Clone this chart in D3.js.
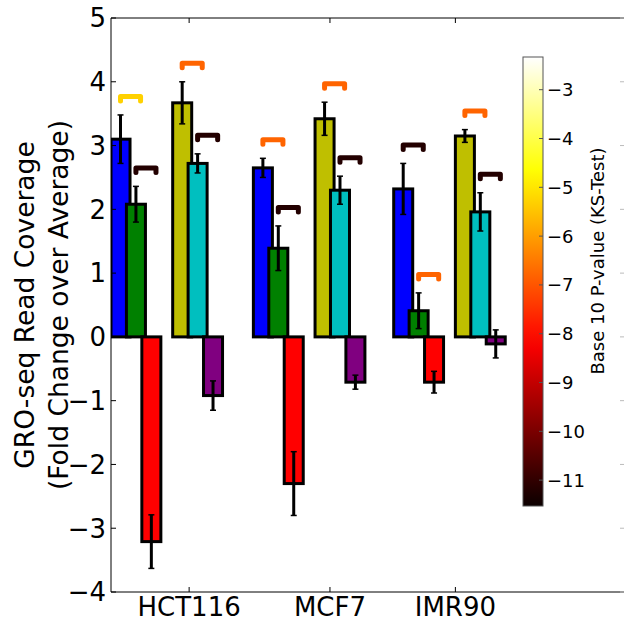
<!DOCTYPE html>
<html>
<head>
<meta charset="utf-8" />
<title>GRO-seq Read Coverage</title>
<script src="https://d3js.org/d3.v7.min.js"></script>
<style>
    body { margin: 0; background: white; }
    text { font-family: "DejaVu Sans", sans-serif; fill: black; }
</style>
</head>
<body>
<svg id="chart" width="624" height="622"></svg>
<script>

    // cell lines on the x axis
    let cellLines = ["HCT116", "MCF7", "IMR90"];
    let tickPos = [0.76, 2.13, 3.35];
    let groupStart = [0, 1.385, 2.75];

    // six bars per cell line (mean, error)
    let seriesColors = ["#0000ff", "#008000", "#ff0000", "#bfbf00", "#00bfbf", "#800080"];
    let seriesOffset = [0, 0.15, 0.3, 0.6, 0.75, 0.9];
    let blueMean = [3.10, 2.65, 2.32], blueErr = [0.38, 0.15, 0.40];
    let greenMean = [2.08, 1.39, 0.41], greenErr = [0.28, 0.35, 0.28];
    let redMean = [-3.21, -2.30, -0.71], redErr = [0.42, 0.50, 0.17];
    let yellowMean = [3.67, 3.42, 3.15], yellowErr = [0.33, 0.26, 0.10];
    let cyanMean = [2.72, 2.30, 1.96], cyanErr = [0.15, 0.22, 0.30];
    let purpleMean = [-0.92, -0.71, -0.11], purpleErr = [0.23, 0.11, 0.22];

    // log10 p-values for the brackets between neighbouring bars
    let pBlueGreen = [-5.3, -6.8, -11.2];
    let pGreenRed = [-11.2, -11.2, -6.8];
    let pYellowCyan = [-6.8, -6.8, -6.8];
    let pCyanPurple = [-11.2, -11.2, -11.2];

    let yTicks = [-4, -3, -2, -1, 0, 1, 2, 3, 4, 5];
    let cbTicks = [-11, -10, -9, -8, -7, -6, -5, -4, -3];
    let cbDomain = [-11.53, -2.33];

    let means = [blueMean, greenMean, redMean, yellowMean, cyanMean, purpleMean];
    let errs = [blueErr, greenErr, redErr, yellowErr, cyanErr, purpleErr];
    let pairs = [[0, 1, pBlueGreen], [1, 2, pGreenRed], [3, 4, pYellowCyan], [4, 5, pCyanPurple]];

    let barW = 0.185;

    let svg = d3.select("#chart");
    let pLeft = 111, pRight = 625, pTop = 18, pBottom = 592;

    let x = d3.scaleLinear().domain([0, 5]).range([pLeft, pRight]);
    let y = d3.scaleLinear().domain([-4, 5]).range([pBottom, pTop]);

    // matplotlib "hot" colormap
    let hotR = d3.scaleLinear().domain([0, 0.365, 1]).range([0.0416, 1, 1]).clamp(true);
    let hotG = d3.scaleLinear().domain([0, 0.365, 0.746, 1]).range([0, 0, 1, 1]).clamp(true);
    let hotB = d3.scaleLinear().domain([0, 0.746, 1]).range([0, 0, 1]).clamp(true);
    let cbNorm = d3.scaleLinear().domain(cbDomain).range([0, 1]).clamp(true);
    function hot(v) {
        let t = cbNorm(v);
        return d3.rgb(hotR(t) * 255, hotG(t) * 255, hotB(t) * 255).toString();
    }

    let defs = svg.append("defs");
    defs.append("clipPath").attr("id", "plotclip")
        .append("rect").attr("x", pLeft).attr("y", pTop)
        .attr("width", pRight - pLeft).attr("height", pBottom - pTop);

    let plot = svg.append("g").attr("clip-path", "url(#plotclip)");

    // bars
    let bars = [];
    means.forEach(function (m, s) {
        m.forEach(function (v, g) {
            bars.push({ s: s, g: g, v: v, e: errs[s][g], x0: groupStart[g] + seriesOffset[s] });
        });
    });

    plot.selectAll("rect.bar")
        .data(bars)
        .enter()
        .append("rect")
        .attr("class", "bar")
        .attr("x", d => x(d.x0))
        .attr("width", d => x(d.x0 + barW) - x(d.x0))
        .attr("y", d => y(Math.max(0, d.v)))
        .attr("height", d => Math.abs(y(d.v) - y(0)))
        .attr("fill", d => seriesColors[d.s])
        .attr("stroke", "black")
        .attr("stroke-width", 3);

    // error bars
    let eb = plot.selectAll("g.err").data(bars).enter().append("g").attr("class", "err");
    eb.append("line")
        .attr("x1", d => x(d.x0 + barW / 2)).attr("x2", d => x(d.x0 + barW / 2))
        .attr("y1", d => y(d.v - d.e)).attr("y2", d => y(d.v + d.e))
        .attr("stroke", "black").attr("stroke-width", 3);
    [-1, 1].forEach(function (sign) {
        eb.append("line")
            .attr("x1", d => x(d.x0 + barW / 2) - 3).attr("x2", d => x(d.x0 + barW / 2) + 3)
            .attr("y1", d => y(d.v + sign * d.e)).attr("y2", d => y(d.v + sign * d.e))
            .attr("stroke", "black").attr("stroke-width", 1.5);
    });

    // significance brackets
    let brackets = [];
    pairs.forEach(function (p) {
        cellLines.forEach(function (c, g) {
            let a = p[0], b = p[1];
            let hi = Math.max(0, means[a][g] + errs[a][g], means[b][g] + errs[b][g]);
            let x1 = groupStart[g] + seriesOffset[a] + barW / 2;
            brackets.push({ x1: x1, x2: x1 + barW + 0.01, yv: hi + 0.29, p: p[2][g] });
        });
    });

    plot.selectAll("path.bracket")
        .data(brackets)
        .enter()
        .append("path")
        .attr("class", "bracket")
        .attr("d", function (d) {
            let yb = y(d.yv), leg = 4.5;
            return "M" + x(d.x1) + "," + (yb + leg) + "L" + x(d.x1) + "," + yb +
                "L" + x(d.x2) + "," + yb + "L" + x(d.x2) + "," + (yb + leg);
        })
        .attr("fill", "none")
        .attr("stroke", d => hot(d.p))
        .attr("stroke-width", 5)
        .attr("stroke-linecap", "round")
        .attr("stroke-linejoin", "round");

    // spines
    let axisColor = "black";
    svg.append("line").attr("x1", pLeft).attr("x2", pLeft).attr("y1", pTop).attr("y2", pBottom)
        .attr("stroke", axisColor).attr("stroke-width", 1);
    svg.append("line").attr("x1", pLeft).attr("x2", pRight).attr("y1", pTop).attr("y2", pTop)
        .attr("stroke", axisColor).attr("stroke-width", 1);
    svg.append("line").attr("x1", pLeft).attr("x2", pRight).attr("y1", pBottom).attr("y2", pBottom)
        .attr("stroke", axisColor).attr("stroke-width", 1);

    // y ticks and labels
    let fmt = v => (v < 0 ? "\u2212" + Math.abs(v) : String(v));
    svg.selectAll("line.ytick").data(yTicks).enter().append("line")
        .attr("x1", pLeft).attr("x2", pLeft + 5)
        .attr("y1", d => y(d)).attr("y2", d => y(d))
        .attr("stroke", axisColor);
    svg.selectAll("line.ytickr").data(yTicks).enter().append("line")
        .attr("x1", pRight - 5).attr("x2", pRight)
        .attr("y1", d => y(d)).attr("y2", d => y(d))
        .attr("stroke", "#bbb");
    svg.selectAll("text.ylab").data(yTicks).enter().append("text")
        .attr("x", pLeft - 5).attr("y", d => y(d))
        .attr("dy", "0.36em")
        .attr("text-anchor", "end")
        .style("font-size", "26px")
        .text(fmt);

    // x ticks and labels
    svg.selectAll("line.xtick").data(tickPos).enter().append("line")
        .attr("x1", d => x(d)).attr("x2", d => x(d))
        .attr("y1", pBottom).attr("y2", pBottom - 5)
        .attr("stroke", axisColor);
    svg.selectAll("line.xtickt").data(tickPos).enter().append("line")
        .attr("x1", d => x(d)).attr("x2", d => x(d))
        .attr("y1", pTop).attr("y2", pTop + 5)
        .attr("stroke", axisColor);
    svg.selectAll("text.xlab").data(cellLines).enter().append("text")
        .attr("x", (d, i) => x(tickPos[i])).attr("y", 616)
        .attr("text-anchor", "middle")
        .style("font-size", "26px")
        .text(d => d);

    // y axis title
    let yt = svg.append("text")
        .attr("transform", "translate(0," + ((pTop + pBottom) / 2) + ") rotate(-90)")
        .attr("text-anchor", "middle")
        .style("font-size", "26.5px");
    yt.append("tspan").attr("x", 0).attr("y", 34).text("GRO-seq Read Coverage");
    yt.append("tspan").attr("x", 0).attr("y", 68).text("(Fold Change over Average)");

    // colorbar
    let cbX = 523, cbW = 20, cbTop = 57, cbBottom = 506;
    let cbY = d3.scaleLinear().domain(cbDomain).range([cbBottom, cbTop]);
    let grad = defs.append("linearGradient").attr("id", "hotgrad")
        .attr("x1", 0).attr("y1", 1).attr("x2", 0).attr("y2", 0);
    d3.range(0, 1.0001, 0.05).forEach(function (t) {
        grad.append("stop").attr("offset", t)
            .attr("stop-color", hot(cbDomain[0] + t * (cbDomain[1] - cbDomain[0])));
    });
    svg.append("rect").attr("x", cbX).attr("y", cbTop)
        .attr("width", cbW).attr("height", cbBottom - cbTop)
        .attr("fill", "url(#hotgrad)")
        .attr("stroke", "#555").attr("stroke-width", 1);
    svg.selectAll("line.cbtick").data(cbTicks).enter().append("line")
        .attr("x1", cbX + cbW - 4).attr("x2", cbX + cbW)
        .attr("y1", d => cbY(d)).attr("y2", d => cbY(d))
        .attr("stroke", "#555");
    svg.selectAll("text.cblab").data(cbTicks).enter().append("text")
        .attr("x", cbX + cbW + 4).attr("y", d => cbY(d))
        .attr("dy", "0.36em")
        .style("font-size", "18px")
        .text(fmt);
    svg.append("text")
        .attr("transform", "translate(604,261) rotate(-90)")
        .attr("text-anchor", "middle")
        .style("font-size", "18px")
        .text("Base 10 P-value (KS-Test)");

</script>
</body>
</html>
